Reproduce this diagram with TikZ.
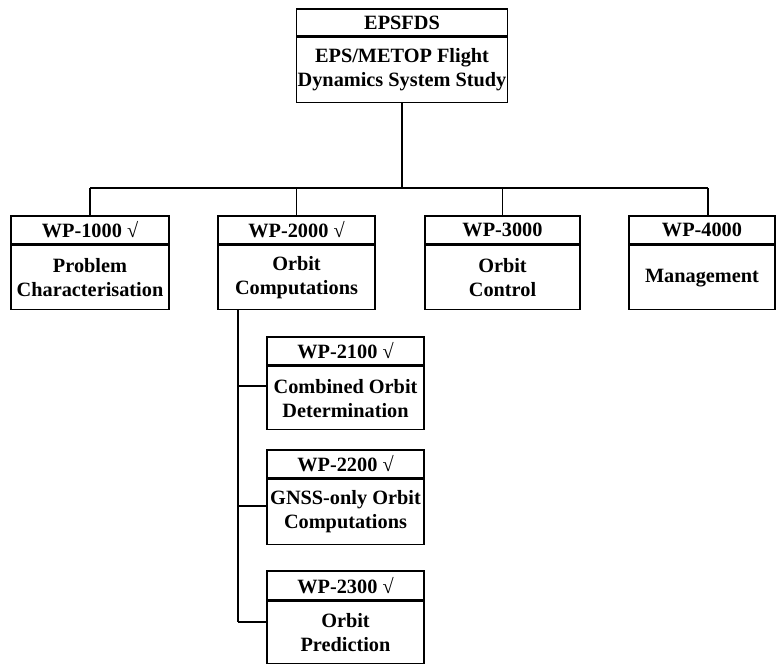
\documentclass[tikz,border=0pt]{standalone}
\usepackage{fontspec}
\setmainfont{Liberation Serif}
\begin{document}
\begin{tikzpicture}[x=1pt,y=-1pt,
  every node/.style={font=\fontsize{20.3}{24}\selectfont\bfseries, inner sep=0pt, align=center},
  hdr/.style={draw, line width=1.6pt, rectangle, minimum height=#1},
  bdy/.style={draw, line width=1.6pt, rectangle, minimum height=#1},
  conn/.style={line width=1.3pt}]
\useasboundingbox[fill=white] (0,0) rectangle (777,664);

% top box
\node[hdr=27pt, minimum width=211pt] (th) at (402,22.5) {EPSFDS};
\node[bdy=65pt, minimum width=211pt, anchor=north] (tb) at (th.south) {EPS/METOP Flight\\Dynamics System Study};

% level 1 boxes
\node[hdr=28pt, minimum width=158pt] (h1) at (90,230) {WP-1000 √};
\node[bdy=64pt, minimum width=158pt, anchor=north] (b1) at (h1.south) {Problem\\Characterisation};
\node[hdr=28pt, minimum width=157pt] (h2) at (296.5,230) {WP-2000 √};
\node[bdy=64pt, minimum width=157pt, anchor=north] (b2) at (h2.south) {Orbit\\Computations};
\node[hdr=28pt, minimum width=155pt] (h3) at (502.5,230) {WP-3000};
\node[bdy=64pt, minimum width=155pt, anchor=north] (b3) at (h3.south) {Orbit\\Control};
\node[hdr=28pt, minimum width=146pt] (h4) at (702,230) {WP-4000};
\node[bdy=64pt, minimum width=146pt, anchor=north] (b4) at (h4.south) {Management};

% level 2 boxes
\node[hdr=28pt, minimum width=157pt] (h21) at (345.5,351) {WP-2100 √};
\node[bdy=63pt, minimum width=157pt, anchor=north] (b21) at (h21.south) {Combined Orbit\\Determination};
\node[hdr=28pt, minimum width=157pt] (h22) at (345.5,464) {WP-2200 √};
\node[bdy=65pt, minimum width=157pt, anchor=north] (b22) at (h22.south) {GNSS-only Orbit\\Computations};
\node[hdr=29pt, minimum width=157pt] (h23) at (345.5,585.5) {WP-2300 √};
\node[bdy=62pt, minimum width=157pt, anchor=north] (b23) at (h23.south) {Orbit\\Prediction};

% connectors level 0 -> 1
\coordinate (bus) at (0,188);
\coordinate (d4) at (708,188);
\draw[conn] (tb.south) -- (tb.south |- bus);
\draw[conn] (h1.north |- bus) -- (d4);
\draw[conn] (h1.north |- bus) -- (h1.north);
\draw[conn] (h2.north |- bus) -- (h2.north);
\draw[conn] (h3.north |- bus) -- (h3.north);
\draw[conn] (d4) -- (d4 |- h4.north);

% connectors level 1 -> 2
\coordinate (s0) at (238,0);
\coordinate (j1) at (238,386);
\coordinate (j2) at (238,506);
\coordinate (j3) at (238,622);
\draw[conn] (s0 |- b2.south) -- (j3);
\draw[conn] (j1) -- (j1 -| b21.west);
\draw[conn] (j2) -- (j2 -| b22.west);
\draw[conn] (j3) -- (j3 -| b23.west);
\end{tikzpicture}
\end{document}
